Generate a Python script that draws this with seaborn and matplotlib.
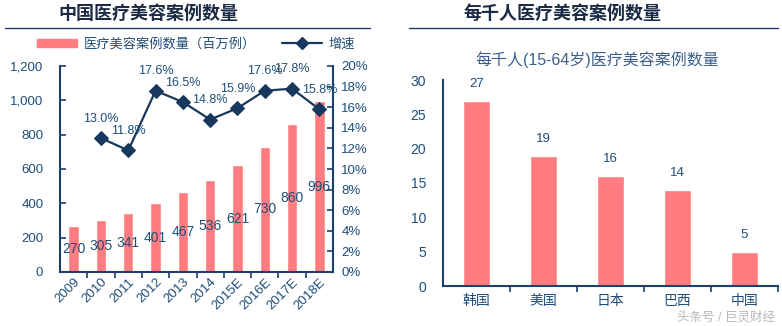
import matplotlib
matplotlib.use("Agg")
import matplotlib.pyplot as plt
from matplotlib.lines import Line2D
from matplotlib.patches import Patch
from matplotlib.ticker import FuncFormatter, FixedLocator, MultipleLocator
import seaborn as sns
import pandas as pd

# ---------------- data ----------------
years = ["2009", "2010", "2011", "2012", "2013", "2014", "2015E", "2016E", "2017E", "2018E"]
cases = [270, 305, 341, 401, 467, 536, 621, 730, 860, 996]
growth_years = ["2010", "2011", "2012", "2013", "2014", "2015E", "2016E", "2017E", "2018E"]
growth = [13.0, 11.8, 17.6, 16.5, 14.8, 15.9, 17.6, 17.8, 15.8]

countries = ["韩国", "美国", "日本", "巴西", "中国"]
per_thousand = [27, 19, 16, 14, 5]

left_title = "中国医疗美容案例数量"
right_title = "每千人医疗美容案例数量"
right_subtitle = "每千人(15-64岁)医疗美容案例数量"
legend_bar = "医疗美容案例数量（百万例）"
legend_line = "增速"
watermark = "头条号 / 巨灵财经"

# ---------------- style ----------------
sns.set_theme(style="white")
plt.rcParams["font.family"] = ["Liberation Sans", "Noto Sans CJK SC", "DejaVu Sans"]

BAR = "#FF7C80"
NAVY = "#17375E"
TXT = "#1F4E79"
SPINE = "#1F3F6E"

W, H = 782, 326
fig = plt.figure(figsize=(W / 100, H / 100), dpi=100)


def box(x0, y0, x1, y1):
    return [x0 / W, 1 - y1 / H, (x1 - x0) / W, (y1 - y0) / H]


# ---------------- left panel ----------------
ax = fig.add_axes(box(60, 66, 333, 272))
df_left = pd.DataFrame({"year": years, "cases": cases})
sns.barplot(data=df_left, x="year", y="cases", color=BAR, width=0.38,
            saturation=1, ax=ax, order=years)
ax.set_xlim(-0.5, len(years) - 0.5)
ax.set_ylim(0, 1200)
ax.yaxis.set_major_locator(MultipleLocator(200))
ax.yaxis.set_major_formatter(FuncFormatter(lambda v, p: f"{int(v):,}"))
ax.set_xlabel("")
ax.set_ylabel("")
for i, v in enumerate(cases):
    ax.text(i, v / 2, str(v), ha="center", va="center", fontsize=10, color=TXT)

ax2 = ax.twinx()
xpos = [years.index(y) for y in growth_years]
df_line = pd.DataFrame({"x": xpos, "g": growth})
sns.lineplot(data=df_line, x="x", y="g", color=NAVY, lw=1.6, marker="D",
             markersize=7, markeredgecolor=NAVY, ax=ax2)
ax2.set_ylim(0, 20)
ax2.set_xlim(-0.5, len(years) - 0.5)
ax2.yaxis.set_major_locator(MultipleLocator(2))
ax2.yaxis.set_major_formatter(FuncFormatter(lambda v, p: f"{int(v)}%"))
ax2.set_xlabel("")
ax2.set_ylabel("")
for x, g in zip(xpos, growth):
    ax2.annotate(f"{g:.1f}%", (x, g), xytext=(0, 14), textcoords="offset points",
                 ha="center", va="center", fontsize=9, color=TXT)

for a in (ax, ax2):
    for s in a.spines.values():
        s.set_color(SPINE)
        s.set_linewidth(1.5)
    a.spines["top"].set_visible(False)
ax.spines["right"].set_visible(False)
ax2.spines["left"].set_visible(False)
ax2.spines["bottom"].set_visible(False)

ax.tick_params(axis="y", direction="in", length=4, width=1.2, color=SPINE,
               labelsize=9.5, labelcolor=TXT, pad=12)
ax2.tick_params(axis="y", direction="in", length=4, width=1.2, color=SPINE,
                labelsize=9.5, labelcolor=TXT, pad=6)
ax.xaxis.set_minor_locator(FixedLocator([i + 0.5 for i in range(len(years) - 1)]))
ax.tick_params(axis="x", which="major", length=0, labelsize=9.5, labelcolor=TXT,
               rotation=45, pad=3)
ax.tick_params(axis="x", which="minor", direction="out", length=4, width=1.2,
               color=SPINE, bottom=True)
for lab in ax.get_xticklabels():
    lab.set_ha("right")
    lab.set_rotation_mode("anchor")

# legend
handles = [Patch(color=BAR, label=legend_bar),
           Line2D([0], [0], color=NAVY, lw=1.6, marker="D", markersize=6, label=legend_line)]
fig.legend(handles=handles, loc="center", bbox_to_anchor=(196 / W, 1 - 44 / H),
           ncol=2, frameon=False, fontsize=9.5, labelcolor=TXT, handlelength=3.0,
           handleheight=0.6, columnspacing=2.0, handletextpad=0.5)

# title and rule
fig.text(148 / W, 1 - 14 / H, left_title, ha="center", va="center",
         fontsize=13, fontweight="bold", color="#1C2B45")
fig.add_artist(Line2D([5 / W, 370 / W], [1 - 28 / H, 1 - 28 / H], color=SPINE, lw=1.0))

# ---------------- right panel ----------------
bx = fig.add_axes(box(443, 80, 778, 286))
df_right = pd.DataFrame({"country": countries, "v": per_thousand})
sns.barplot(data=df_right, x="country", y="v", color=BAR, width=0.4,
            saturation=1, ax=bx, order=countries)
bx.set_xlim(-0.5, len(countries) - 0.5)
bx.set_ylim(0, 30)
bx.yaxis.set_major_locator(MultipleLocator(5))
bx.set_xlabel("")
bx.set_ylabel("")
for i, v in enumerate(per_thousand):
    bx.annotate(str(v), (i, v), xytext=(0, 12), textcoords="offset points",
                ha="center", va="center", fontsize=9.5, color=TXT)
for s in bx.spines.values():
    s.set_color(SPINE)
    s.set_linewidth(1.5)
bx.spines["top"].set_visible(False)
bx.spines["right"].set_visible(False)
bx.tick_params(axis="y", direction="in", length=4, width=1.2, color=SPINE,
               labelsize=10, labelcolor=TXT, pad=12)
bx.xaxis.set_minor_locator(FixedLocator([i + 0.5 for i in range(len(countries))]))
bx.tick_params(axis="x", which="major", length=0, labelsize=10, labelcolor=TXT, pad=6)
bx.tick_params(axis="x", which="minor", direction="out", length=4, width=1.2,
               color=SPINE, bottom=True)

fig.text(597 / W, 1 - 60 / H, right_subtitle, ha="center", va="center",
         fontsize=11.5, color="#3C5F8C")
fig.text(563 / W, 1 - 14 / H, right_title, ha="center", va="center",
         fontsize=13, fontweight="bold", color="#1C2B45")
fig.add_artist(Line2D([409 / W, 778 / W], [1 - 28 / H, 1 - 28 / H], color=SPINE, lw=1.0))

fig.text(775 / W, 1 - 317 / H, watermark, ha="right", va="center",
         fontsize=9, color="#B8B8B8")

fig.savefig("out.png", dpi=100)
